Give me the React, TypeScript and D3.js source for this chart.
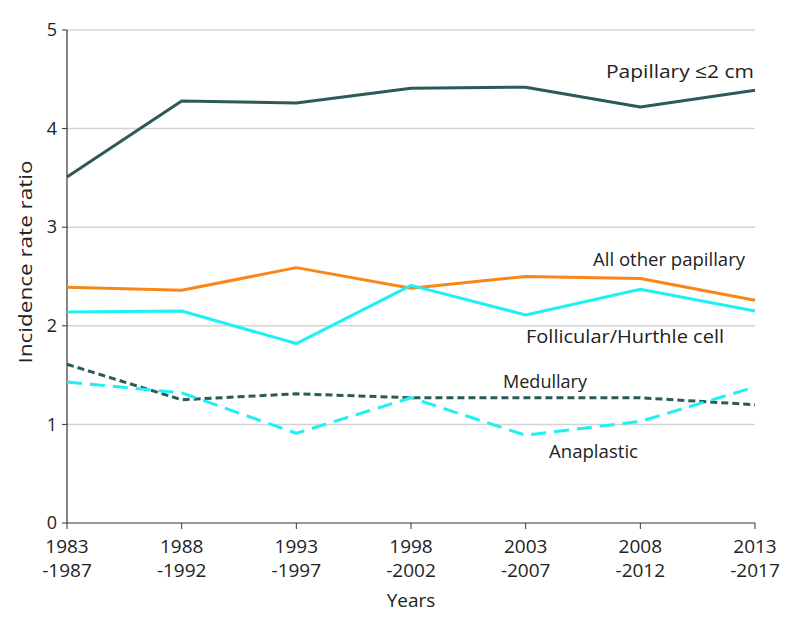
import React from "react";
import * as d3 from "d3";

const periods = ["1983\n-1987", "1988\n-1992", "1993\n-1997", "1998\n-2002", "2003\n-2007", "2008\n-2012", "2013\n-2017"];
const yTicks = [0, 1, 2, 3, 4, 5];

const papillarySmall = [3.51, 4.28, 4.26, 4.41, 4.42, 4.22, 4.39];
const otherPapillary = [2.39, 2.36, 2.59, 2.38, 2.50, 2.48, 2.26];
const follicular = [2.14, 2.15, 1.82, 2.41, 2.11, 2.37, 2.15];
const medullary = [1.61, 1.25, 1.31, 1.27, 1.27, 1.27, 1.20];
const anaplastic = [1.43, 1.32, 0.91, 1.27, 0.89, 1.03, 1.38];

const seriesNames = ["Papillary ≤2 cm", "All other papillary", "Follicular/Hurthle cell", "Medullary", "Anaplastic"];

const W = 794, H = 629;
const left = 67, right = 755, top = 30, bottom = 523;
const FONT = "'Open Sans', sans-serif";

export default function App() {
  const x = d3.scalePoint<number>().domain(d3.range(periods.length)).range([left, right]);
  const y = d3.scaleLinear().domain([0, 5]).range([bottom, top]);
  const line = d3.line<number>().x((_, i) => x(i) as number).y((v) => y(v));

  const series = [
    { name: seriesNames[0], data: papillarySmall, color: "#2b5b58", dash: undefined, lx: 606, ly: 78, lw: 148 },
    { name: seriesNames[1], data: otherPapillary, color: "#fb8518", dash: undefined, lx: 593, ly: 266, lw: 152 },
    { name: seriesNames[2], data: follicular, color: "#1ff0f4", dash: undefined, lx: 526, ly: 343, lw: 198 },
    { name: seriesNames[3], data: medullary, color: "#2b5b58", dash: "7 4", lx: 503, ly: 388, lw: 84 },
    { name: seriesNames[4], data: anaplastic, color: "#1ff0f4", dash: "15 8", lx: 549, ly: 458, lw: 89 },
  ];

  return (
    <svg width={W} height={H} style={{ position: "absolute", left: 0, top: 0, background: "#fff" }} fontFamily={FONT}>
      {yTicks.map((t) => (
        <g key={t}>
          {t > 0 && <line x1={left} x2={right} y1={y(t)} y2={y(t)} stroke="#d4d4d4" strokeWidth={1.5} />}
          <line x1={left - 5} x2={left} y1={y(t)} y2={y(t)} stroke="#333" strokeWidth={1} />
          <text x={left - 10} y={y(t)} dy="0.34em" textAnchor="end" fontSize={18} fill="#222">{t}</text>
        </g>
      ))}
      <line x1={left} x2={left} y1={top} y2={bottom} stroke="#333" strokeWidth={1.2} />
      <line x1={left} x2={right} y1={bottom} y2={bottom} stroke="#333" strokeWidth={1.2} />
      {periods.map((p, i) => {
        const [a, b] = p.split("\n");
        return (
          <g key={p}>
            <line x1={x(i)} x2={x(i)} y1={bottom} y2={bottom + 6} stroke="#333" strokeWidth={1} />
            <text x={x(i)} y={553} textAnchor="middle" fontSize={19} fill="#222">{a}</text>
            <text x={x(i)} y={577} textAnchor="middle" fontSize={19} fill="#222">{b}</text>
          </g>
        );
      })}
      <text x={(left + right) / 2} y={607} textAnchor="middle" fontSize={19} fill="#222">Years</text>
      <text transform={`translate(32, ${262}) rotate(-90)`} textAnchor="middle" fontSize={19} fill="#222" textLength={203} lengthAdjust="spacingAndGlyphs">Incidence rate ratio</text>
      {series.map((s) => (
        <path key={s.name} d={line(s.data) || ""} fill="none" stroke={s.color} strokeWidth={3} strokeDasharray={s.dash} strokeLinejoin="round" />
      ))}
      {series.map((s) => (
        <text key={s.name + "l"} x={s.lx} y={s.ly} fontSize={19} fill="#222" textLength={s.lw} lengthAdjust="spacingAndGlyphs">{s.name}</text>
      ))}
    </svg>
  );
}
